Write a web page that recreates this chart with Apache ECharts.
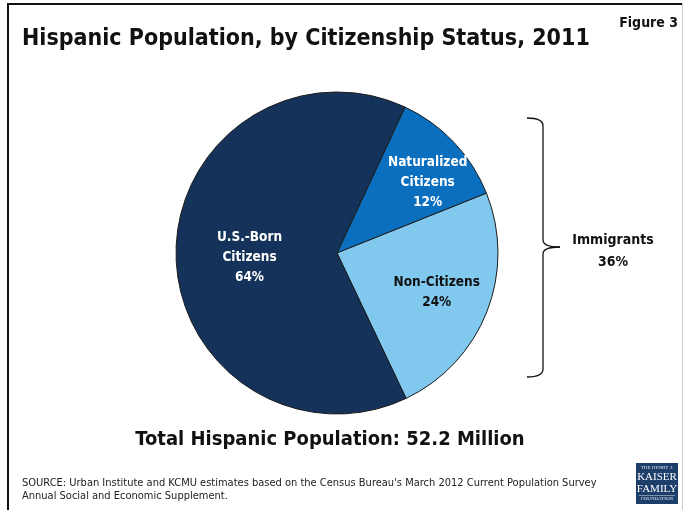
<!DOCTYPE html>
<html>
<head>
<meta charset="utf-8">
<script src="https://cdn.jsdelivr.net/npm/echarts@6/dist/echarts.min.js"></script>
<style>
  html, body { margin: 0; padding: 0; background: #fff; }
  #chart { width: 685px; height: 510px; }
</style>
</head>
<body>
<div id="chart"></div>
<script>
// Hispanic population shares by citizenship status, 2011 (percent)
const categories = ['Naturalized\nCitizens', 'Non-Citizens', 'U.S.-Born\nCitizens'];
const shares = [12, 24, 64];
const sliceColors = ['#0a6fbf', '#80c8ed', '#15335a'];
const labelColors = ['#ffffff', '#111111', '#ffffff'];
const immigrantGroups = [0, 1]; // naturalized + non-citizens
const totalMillions = 52.2;

const FONT = "'Liberation Sans Narrow', 'DejaVu Sans Condensed', 'Open Sans', sans-serif";

const immigrantsShare = immigrantGroups.reduce((s, i) => s + shares[i], 0);

// hand-tuned nudges for the slice labels
const labelNudge = [[30, -13], [22, 9], [-4, 4]];

const bracketStyle = { stroke: '#111', lineWidth: 1.3, fill: null };
function curve(x1, y1, cx, cy, x2, y2) {
  return { type: 'bezierCurve', shape: { x1, y1, cpx1: cx, cpy1: cy, x2, y2 }, style: bracketStyle };
}
function seg(x1, y1, x2, y2) {
  return { type: 'line', shape: { x1, y1, x2, y2 }, style: bracketStyle };
}

const chart = echarts.init(document.getElementById('chart'), null, { renderer: 'canvas' });

chart.setOption({
  animation: false,
  backgroundColor: '#ffffff',
  series: [{
    type: 'pie',
    center: [337, 253],
    radius: 161,
    startAngle: 65,
    clockwise: true,
    silent: true,
    data: categories.map((name, i) => ({
      name: name,
      value: shares[i],
      itemStyle: { color: sliceColors[i] },
      label: { color: labelColors[i] }
    })),
    itemStyle: { borderColor: '#1b1b1b', borderWidth: 1 },
    label: {
      position: 'inner',
      formatter: p => p.name + '\n' + p.value + '%',
      fontFamily: FONT,
      fontWeight: 'bold',
      fontSize: 13.5,
      lineHeight: 20,
      align: 'center'
    },
    labelLine: { show: false },
    labelLayout: params => ({ dx: labelNudge[params.dataIndex][0], dy: labelNudge[params.dataIndex][1] })
  }],
  graphic: [
    // frame lines
    { type: 'rect', shape: { x: 7, y: 3, width: 676, height: 2 }, style: { fill: '#111' } },
    { type: 'rect', shape: { x: 7, y: 3, width: 2, height: 507 }, style: { fill: '#111' } },
    { type: 'rect', shape: { x: 682, y: 3, width: 1, height: 507 }, style: { fill: '#c8c8c8' } },
    {
      type: 'text', x: 22, y: 28,
      style: { text: 'Hispanic Population, by Citizenship Status, 2011', font: 'bold 23px ' + FONT, fill: '#111' }
    },
    {
      type: 'text', x: 678, y: 16,
      style: { text: 'Figure 3', font: 'bold 14px ' + FONT, fill: '#111', align: 'right' }
    },
    // bracket spanning the immigrant slices
    curve(527, 118, 543, 118, 543, 126),
    seg(543, 126, 543, 240),
    curve(543, 240, 543, 247, 560, 247),
    curve(560, 247, 543, 247, 543, 254),
    seg(543, 254, 543, 369),
    curve(543, 369, 543, 377, 527, 377),
    {
      type: 'text', x: 613, y: 251,
      style: {
        text: 'Immigrants\n' + immigrantsShare + '%',
        font: 'bold 14px ' + FONT, fill: '#111', align: 'center', verticalAlign: 'middle', lineHeight: 22
      }
    },
    {
      type: 'text', x: 330, y: 440,
      style: {
        text: 'Total Hispanic Population: ' + totalMillions + ' Million',
        font: 'bold 20px ' + FONT, fill: '#111', align: 'center', verticalAlign: 'middle'
      }
    },
    {
      type: 'text', x: 22, y: 477,
      style: {
        text: "SOURCE: Urban Institute and KCMU estimates based on the Census Bureau's March 2012 Current Population Survey\nAnnual Social and Economic Supplement.",
        font: '11px ' + FONT, fill: '#222', lineHeight: 13
      }
    },
    // foundation logo
    { type: 'rect', shape: { x: 636, y: 463, width: 42, height: 41 }, style: { fill: '#1d3d6b' } },
    {
      type: 'text', x: 657, y: 468,
      style: { text: 'THE HENRY J.', font: '5px serif', fill: '#dfe6ef', align: 'center', verticalAlign: 'middle' }
    },
    {
      type: 'text', x: 657, y: 477,
      style: { text: 'KAISER', font: '11px "Liberation Serif", serif', fill: '#ffffff', align: 'center', verticalAlign: 'middle' }
    },
    {
      type: 'text', x: 657, y: 489,
      style: { text: 'FAMILY', font: '11px "Liberation Serif", serif', fill: '#ffffff', align: 'center', verticalAlign: 'middle' }
    },
    { type: 'rect', shape: { x: 639, y: 495, width: 36, height: 0.6 }, style: { fill: '#dfe6ef' } },
    {
      type: 'text', x: 657, y: 499,
      style: { text: 'FOUNDATION', font: '5px serif', fill: '#dfe6ef', align: 'center', verticalAlign: 'middle' }
    }
  ]
});
</script>
</body>
</html>
